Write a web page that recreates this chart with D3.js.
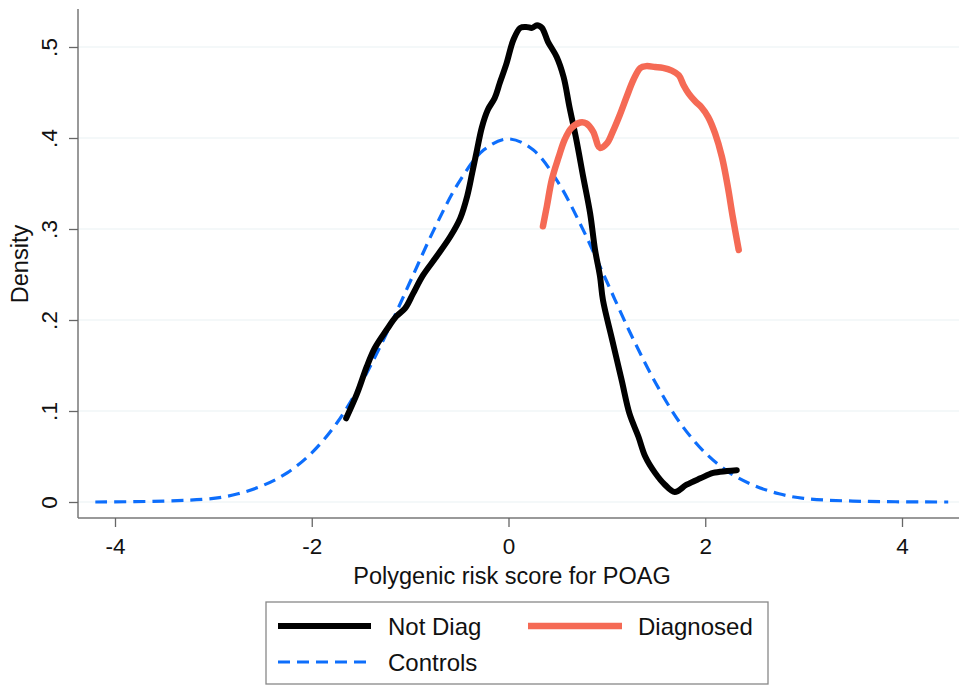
<!DOCTYPE html>
<html><head><meta charset="utf-8">
<script src="https://cdn.jsdelivr.net/npm/d3@7"></script>
<style>body{margin:0;background:#fff}svg{display:block}text{font-family:"Liberation Sans",Arial,Helvetica,sans-serif;fill:#111}</style>
</head><body><svg id="c" width="959" height="686"></svg>
<script>
const xTicks=[-4,-2,0,2,4];
const yTicks=[0,0.1,0.2,0.3,0.4,0.5];
const yTickLabels=["0",".1",".2",".3",".4",".5"];
const seriesNames=["Not Diag","Diagnosed","Controls"];
const notDiagX=[-1.65,-1.54,-1.44,-1.36,-1.24,-1.14,-1.05,-0.97,-0.87,-0.73,-0.59,-0.49,-0.42,-0.37,-0.32,-0.27,-0.21,-0.14,-0.09,-0.02,0.05,0.12,0.18,0.24,0.29,0.34,0.40,0.49,0.56,0.62,0.69,0.76,0.83,0.88,0.93,0.96,1.05,1.15,1.23,1.32,1.39,1.49,1.59,1.69,1.81,1.95,2.08,2.22,2.32];
const notDiagY=[0.092,0.119,0.149,0.169,0.189,0.204,0.213,0.229,0.249,0.270,0.292,0.312,0.336,0.361,0.387,0.412,0.431,0.444,0.460,0.482,0.508,0.521,0.522,0.521,0.524,0.521,0.506,0.489,0.467,0.434,0.398,0.357,0.317,0.277,0.248,0.222,0.180,0.134,0.097,0.072,0.050,0.032,0.019,0.011,0.019,0.026,0.032,0.034,0.035];
const diagX=[0.35,0.39,0.44,0.51,0.57,0.64,0.73,0.79,0.86,0.93,1.00,1.06,1.13,1.20,1.27,1.34,1.40,1.49,1.57,1.66,1.73,1.78,1.83,1.90,1.96,2.03,2.10,2.17,2.23,2.28,2.34];
const diagY=[0.303,0.325,0.354,0.379,0.398,0.411,0.417,0.416,0.407,0.389,0.394,0.407,0.425,0.445,0.464,0.477,0.479,0.478,0.477,0.474,0.469,0.458,0.449,0.440,0.434,0.423,0.405,0.379,0.346,0.313,0.277];
const ctrlX=[-4.2,-3.5,-3,-2.75,-2.5,-2.25,-2,-1.75,-1.5,-1.25,-1,-0.75,-0.5,-0.25,0,0.25,0.5,0.75,1,1.25,1.5,1.75,2,2.25,2.5,2.75,3,3.5,4.47];
const ctrlY=[0.000,0.001,0.004,0.009,0.018,0.032,0.054,0.086,0.130,0.183,0.242,0.301,0.352,0.387,0.399,0.387,0.352,0.301,0.242,0.183,0.130,0.086,0.054,0.032,0.018,0.009,0.004,0.001,0.000];

const svg=d3.select("#c");
const x=d3.scaleLinear().domain([-4,4]).range([115,902]);
const y=d3.scaleLinear().domain([0,0.5]).range([502,47]);
const pL=78,pR=959,pT=9,pB=518;

// gridlines
svg.append("g").selectAll("line").data(yTicks).join("line")
 .attr("x1",pL).attr("x2",pR).attr("y1",d=>y(d)).attr("y2",d=>y(d))
 .attr("stroke","#eaf2f3").attr("stroke-width",1.2);

// axes
const xAxis=svg.append("g").attr("transform",`translate(0,${pB})`)
 .call(d3.axisBottom(x).tickValues(xTicks).tickSize(9).tickFormat(d3.format("d")));
xAxis.select(".domain").attr("d",`M${pL},0H${pR}`).attr("stroke","#777").attr("stroke-width",1.5);
xAxis.selectAll(".tick line").attr("stroke","#666").attr("stroke-width",1.3);
xAxis.selectAll(".tick text").attr("font-size",22.5).style("fill","#111")
 .attr("y",36).attr("dy",0).text(d=>d<0?"-"+Math.abs(d):d);

const yAxis=svg.append("g").attr("transform",`translate(${pL},0)`)
 .call(d3.axisLeft(y).tickValues(yTicks).tickSize(9).tickFormat((d,i)=>yTickLabels[i]));
yAxis.select(".domain").attr("d",`M0,${pT}V${pB}`).attr("stroke","#777").attr("stroke-width",1.5);
yAxis.selectAll(".tick line").attr("stroke","#666").attr("stroke-width",1.3);
yAxis.selectAll(".tick text").attr("font-size",22.5).style("fill","#111")
 .attr("x",0).attr("dy",0).attr("text-anchor","middle")
 .attr("transform","translate(-21,0) rotate(-90)");

// axis titles
svg.append("text").attr("x",512).attr("y",584).attr("text-anchor","middle").attr("font-size",23.5).text("Polygenic risk score for POAG");
svg.append("text").attr("transform","translate(28,264) rotate(-90)").attr("text-anchor","middle").attr("font-size",23.5).text("Density");

const line=d3.line().x(d=>x(d[0])).y(d=>y(d[1])).curve(d3.curveCatmullRom);
const ctrl=ctrlX.map((v,i)=>[v,ctrlY[i]]);
const nd=notDiagX.map((v,i)=>[v,notDiagY[i]]);
const dg=diagX.map((v,i)=>[v,diagY[i]]);

svg.append("path").attr("d",line(ctrl)).attr("fill","none").attr("stroke","#0d6efc").attr("stroke-width",3.2).attr("stroke-dasharray","12,7");
svg.append("path").attr("d",line(nd)).attr("fill","none").attr("stroke","#000").attr("stroke-width",6).attr("stroke-linejoin","round").attr("stroke-linecap","round");
svg.append("path").attr("d",line(dg)).attr("fill","none").attr("stroke","#f56a55").attr("stroke-width",6.5).attr("stroke-linejoin","round").attr("stroke-linecap","round");

// legend
const lg=svg.append("g");
lg.append("rect").attr("x",266).attr("y",602).attr("width",502).attr("height",82).attr("fill","#fff").attr("stroke","#888").attr("stroke-width",1.3);
const items=[
 {name:seriesNames[0],x1:278,x2:371,yy:626,color:"#000",w:6,dash:null,tx:388},
 {name:seriesNames[1],x1:528,x2:622,yy:626,color:"#f56a55",w:6.5,dash:null,tx:638},
 {name:seriesNames[2],x1:278,x2:371,yy:662,color:"#0d6efc",w:3.2,dash:"12,7",tx:388}];
items.forEach(it=>{
 lg.append("line").attr("x1",it.x1).attr("x2",it.x2).attr("y1",it.yy).attr("y2",it.yy)
  .attr("stroke",it.color).attr("stroke-width",it.w).attr("stroke-dasharray",it.dash);
 lg.append("text").attr("x",it.tx).attr("y",it.yy+1).attr("dy","0.35em").attr("font-size",24).text(it.name);
});
</script></body></html>
